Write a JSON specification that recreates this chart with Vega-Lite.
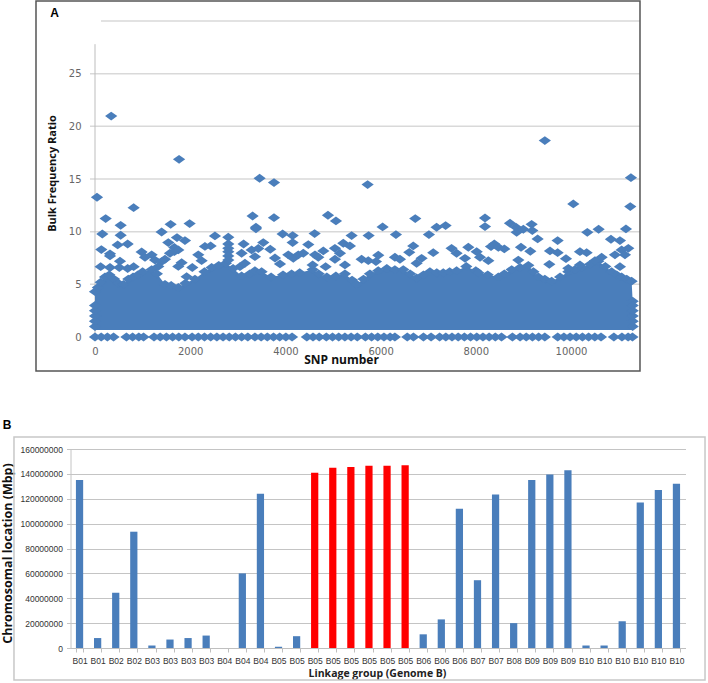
{"$schema":"https://vega.github.io/schema/vega-lite/v6.json","width":708,"height":683,"padding":0,"autosize":"none","background":"white","config":{"view":{"stroke":null}},
"datasets":{
"grid":[{"x":-105,"x2":11450,"y":5},{"x":-105,"x2":11450,"y":10},{"x":-105,"x2":11450,"y":15},{"x":-105,"x2":11450,"y":20},{"x":-105,"x2":11450,"y":25},{"x":126,"x2":11450,"y":30}],
"mass":[{"x":0,"top":4.3},{"x":60,"top":4.7},{"x":120,"top":5.2},{"x":210,"top":5.7},{"x":300,"top":5.9},{"x":400,"top":5.5},{"x":490,"top":5.1},{"x":600,"top":5},{"x":700,"top":5.5},{"x":800,"top":5.7},{"x":900,"top":5.9},{"x":1000,"top":6.2},{"x":1190,"top":6.4},{"x":1300,"top":6},{"x":1470,"top":5},{"x":1600,"top":4.9},{"x":1750,"top":4.7},{"x":1900,"top":5.1},{"x":2100,"top":5.5},{"x":2300,"top":6.2},{"x":2450,"top":6.6},{"x":2600,"top":6.8},{"x":2750,"top":7},{"x":2900,"top":6.5},{"x":3080,"top":5.8},{"x":3250,"top":6},{"x":3360,"top":6.3},{"x":3500,"top":6.2},{"x":3700,"top":5.7},{"x":3950,"top":5.9},{"x":4130,"top":6},{"x":4300,"top":6.1},{"x":4572,"top":6.4},{"x":4700,"top":6},{"x":4870,"top":5.7},{"x":5060,"top":5.8},{"x":5251,"top":6},{"x":5400,"top":5.4},{"x":5500,"top":5},{"x":5640,"top":5.5},{"x":5775,"top":6},{"x":5950,"top":6.3},{"x":6130,"top":6.5},{"x":6300,"top":6.4},{"x":6476,"top":6.4},{"x":6620,"top":6},{"x":6756,"top":5.6},{"x":6900,"top":5.9},{"x":7036,"top":6.2},{"x":7180,"top":6.1},{"x":7316,"top":6.1},{"x":7450,"top":6.2},{"x":7596,"top":6.3},{"x":7800,"top":6.7},{"x":8000,"top":6.3},{"x":8053,"top":6.1},{"x":8250,"top":5.9},{"x":8473,"top":5.7},{"x":8600,"top":6},{"x":8753,"top":6.4},{"x":8930,"top":6.6},{"x":9103,"top":6.8},{"x":9210,"top":6.2},{"x":9313,"top":5.7},{"x":9450,"top":5.5},{"x":9593,"top":5.3},{"x":9770,"top":5.7},{"x":9943,"top":6.2},{"x":10080,"top":6.4},{"x":10223,"top":6.6},{"x":10400,"top":6.9},{"x":10573,"top":7.2},{"x":10720,"top":6.7},{"x":10853,"top":6.2},{"x":10960,"top":5.9},{"x":11063,"top":5.7},{"x":11170,"top":5.5},{"x":11273,"top":5.3},{"x":11295,"top":3.4}],
"points":[{"x":42,"y":13.27},{"x":340,"y":20.97},{"x":1766,"y":16.87},{"x":812,"y":12.28},{"x":224,"y":11.24},{"x":539,"y":10.6},{"x":3311,"y":11.49},{"x":1589,"y":10.7},{"x":1988,"y":10.77},{"x":1400,"y":9.97},{"x":154,"y":9.78},{"x":539,"y":9.66},{"x":3381,"y":10.42},{"x":3381,"y":10.27},{"x":3458,"y":15.07},{"x":3760,"y":14.66},{"x":3760,"y":11.33},{"x":2520,"y":9.6},{"x":2800,"y":9.47},{"x":1722,"y":9.44},{"x":1890,"y":9.15},{"x":1540,"y":8.96},{"x":686,"y":8.83},{"x":476,"y":8.74},{"x":3122,"y":8.83},{"x":3535,"y":8.96},{"x":133,"y":8.3},{"x":315,"y":7.9},{"x":315,"y":7.7},{"x":980,"y":8.07},{"x":1666,"y":8.5},{"x":1575,"y":7.95},{"x":1666,"y":8.1},{"x":1750,"y":8.27},{"x":2310,"y":8.6},{"x":2429,"y":8.65},{"x":2800,"y":8.83},{"x":2800,"y":8.42},{"x":2800,"y":8.1},{"x":2800,"y":7.7},{"x":2800,"y":7.3},{"x":1190,"y":7.8},{"x":1470,"y":7.38},{"x":1050,"y":7.57},{"x":3080,"y":7.95},{"x":3290,"y":8.27},{"x":3430,"y":8.4},{"x":3360,"y":7.63},{"x":3682,"y":8.33},{"x":2170,"y":7.8},{"x":2240,"y":7.25},{"x":1820,"y":7.06},{"x":1750,"y":6.7},{"x":525,"y":7.2},{"x":119,"y":6.68},{"x":315,"y":6.6},{"x":511,"y":6.6},{"x":686,"y":6.5},{"x":812,"y":6.68},{"x":2044,"y":6.6},{"x":1925,"y":5.73},{"x":3045,"y":6.68},{"x":3150,"y":7},{"x":1260,"y":7.3},{"x":1400,"y":7.16},{"x":1330,"y":6.7},
{"x":3781,"y":7.5},{"x":5727,"y":14.47},{"x":4894,"y":11.56},{"x":5062,"y":11.02},{"x":6042,"y":10.45},{"x":6728,"y":11.24},{"x":7176,"y":10.42},{"x":7365,"y":10.58},{"x":3942,"y":9.78},{"x":4152,"y":9.63},{"x":4614,"y":9.82},{"x":5391,"y":9.63},{"x":5748,"y":9.63},{"x":6322,"y":9.72},{"x":7015,"y":9.72},{"x":4152,"y":8.96},{"x":4481,"y":8.77},{"x":5216,"y":8.9},{"x":5041,"y":8.42},{"x":5356,"y":8.65},{"x":6686,"y":8.65},{"x":6602,"y":8.04},{"x":7106,"y":8.01},{"x":7491,"y":8.42},{"x":7596,"y":7.95},{"x":4796,"y":8.17},{"x":4061,"y":7.8},{"x":4166,"y":7.47},{"x":4271,"y":7.8},{"x":4376,"y":7.95},{"x":4621,"y":7.8},{"x":4691,"y":7.57},{"x":5146,"y":7.95},{"x":5041,"y":7.38},{"x":3886,"y":6.94},{"x":5951,"y":7.76},{"x":5902,"y":7.16},{"x":5601,"y":7.38},{"x":5741,"y":7.25},{"x":6301,"y":7.57},{"x":6406,"y":7.38},{"x":6861,"y":7.47},{"x":6756,"y":7},{"x":4845,"y":6.68},{"x":4572,"y":6.84},{"x":5251,"y":6.84},
{"x":11259,"y":15.13},{"x":9450,"y":18.65},{"x":10048,"y":12.63},{"x":11245,"y":12.38},{"x":8193,"y":11.3},{"x":8193,"y":10.48},{"x":8718,"y":10.8},{"x":8844,"y":10.42},{"x":8858,"y":9.94},{"x":8998,"y":10.23},{"x":9173,"y":10.7},{"x":9187,"y":10.1},{"x":10342,"y":9.94},{"x":10580,"y":10.23},{"x":11154,"y":10.26},{"x":9299,"y":9.31},{"x":9719,"y":9.15},{"x":10839,"y":9.28},{"x":11028,"y":9.15},{"x":7843,"y":8.52},{"x":8389,"y":8.83},{"x":8319,"y":8.58},{"x":8473,"y":8.52},{"x":8599,"y":8.36},{"x":8949,"y":8.52},{"x":9145,"y":8.14},{"x":9558,"y":8.17},{"x":9719,"y":8.01},{"x":10188,"y":8.1},{"x":10328,"y":8.01},{"x":9894,"y":7.44},{"x":11203,"y":8.42},{"x":11063,"y":8.27},{"x":10923,"y":7.8},{"x":11133,"y":7.8},{"x":8018,"y":8.1},{"x":8088,"y":7.57},{"x":8263,"y":7.25},{"x":8893,"y":7.3},{"x":9544,"y":6.9},{"x":11028,"y":6.68},{"x":10643,"y":7.57},{"x":10503,"y":7.25},{"x":7773,"y":7.47},{"x":9943,"y":6.52},{"x":10188,"y":6.84},
{"x":0,"y":1},{"x":0,"y":1.5},{"x":0,"y":2},{"x":0,"y":2.5},{"x":0,"y":3},{"x":11295,"y":1},{"x":11295,"y":1.5},{"x":11295,"y":2},{"x":11295,"y":2.5},{"x":11295,"y":3},
{"x":0,"y":0},{"x":130,"y":0},{"x":260,"y":0},{"x":390,"y":0},{"x":660,"y":0},{"x":790,"y":0},{"x":920,"y":0},{"x":1020,"y":0},{"x":1240,"y":0},{"x":1370,"y":0},{"x":1500,"y":0},{"x":1630,"y":0},{"x":1760,"y":0},{"x":1890,"y":0},{"x":2040,"y":0},{"x":2170,"y":0},{"x":2300,"y":0},{"x":2430,"y":0},{"x":2560,"y":0},{"x":2690,"y":0},{"x":2820,"y":0},{"x":2950,"y":0},{"x":3080,"y":0},{"x":3210,"y":0},{"x":3360,"y":0},{"x":3490,"y":0},{"x":3620,"y":0},{"x":3750,"y":0},{"x":3880,"y":0},{"x":4010,"y":0},{"x":4140,"y":0},{"x":4450,"y":0},{"x":4580,"y":0},{"x":4710,"y":0},{"x":4860,"y":0},{"x":4990,"y":0},{"x":5120,"y":0},{"x":5250,"y":0},{"x":5380,"y":0},{"x":5510,"y":0},{"x":5680,"y":0},{"x":5810,"y":0},{"x":5940,"y":0},{"x":6070,"y":0},{"x":6200,"y":0},{"x":6300,"y":0},{"x":6560,"y":0},{"x":6690,"y":0},{"x":6900,"y":0},{"x":7060,"y":0},{"x":7240,"y":0},{"x":7370,"y":0},{"x":7500,"y":0},{"x":7630,"y":0},{"x":7760,"y":0},{"x":7890,"y":0},{"x":8020,"y":0},{"x":8150,"y":0},{"x":8280,"y":0},{"x":8410,"y":0},{"x":8540,"y":0},{"x":8770,"y":0},{"x":8930,"y":0},{"x":9060,"y":0},{"x":9190,"y":0},{"x":9320,"y":0},{"x":9450,"y":0},{"x":9720,"y":0},{"x":9850,"y":0},{"x":9980,"y":0},{"x":10110,"y":0},{"x":10240,"y":0},{"x":10370,"y":0},{"x":10500,"y":0},{"x":10630,"y":0},{"x":10900,"y":0},{"x":11070,"y":0},{"x":11200,"y":0},{"x":11290,"y":0}],
"bars":[{"m":"B01-1","v":135000000,"g":"n"},{"m":"B01-2","v":8000000,"g":"n"},{"m":"B02-1","v":44500000,"g":"n"},{"m":"B02-2","v":93500000,"g":"n"},{"m":"B03-1","v":2000000,"g":"n"},{"m":"B03-2","v":6800000,"g":"n"},{"m":"B03-3","v":8000000,"g":"n"},{"m":"B03-4","v":10000000,"g":"n"},{"m":"B04-1","v":0,"g":"n"},{"m":"B04-2","v":60000000,"g":"n"},{"m":"B04-3","v":124000000,"g":"n"},{"m":"B05-1","v":1000000,"g":"n"},{"m":"B05-2","v":9500000,"g":"n"},{"m":"B05-3","v":141000000,"g":"r"},{"m":"B05-4","v":145000000,"g":"r"},{"m":"B05-5","v":145500000,"g":"r"},{"m":"B05-6","v":146500000,"g":"r"},{"m":"B05-7","v":146500000,"g":"r"},{"m":"B05-8","v":147000000,"g":"r"},{"m":"B06-1","v":11000000,"g":"n"},{"m":"B06-2","v":23000000,"g":"n"},{"m":"B06-3","v":112000000,"g":"n"},{"m":"B07-1","v":54500000,"g":"n"},{"m":"B07-2","v":123500000,"g":"n"},{"m":"B08-1","v":20000000,"g":"n"},{"m":"B09-1","v":135000000,"g":"n"},{"m":"B09-2","v":139500000,"g":"n"},{"m":"B09-3","v":143000000,"g":"n"},{"m":"B10-1","v":2000000,"g":"n"},{"m":"B10-2","v":2000000,"g":"n"},{"m":"B10-3","v":21500000,"g":"n"},{"m":"B10-4","v":117000000,"g":"n"},{"m":"B10-5","v":127000000,"g":"n"},{"m":"B10-6","v":132000000,"g":"n"}]
},
"layer":[
{"layer":[
{"data":{"name":"grid"},"mark":{"type":"rule","color":"#d9d9d9","strokeWidth":1.5},"encoding":{
"x":{"field":"x","type":"quantitative","scale":{"domain":[0,11300],"range":[95,632.9],"nice":false,"zero":false},"axis":{"orient":"bottom","offset":-346,"domain":false,"ticks":false,"grid":false,"values":[0,2000,4000,6000,8000,10000],"format":"d","labelFlush":false,"labelFont":"DejaVu Sans","labelFontSize":10,"labelColor":"#666666","labelPadding":9,"title":"SNP number","titleFont":"Open Sans","titleFontSize":12,"titleFontWeight":"bold","titleColor":"#111111","titleX":341,"titleY":17}},
"x2":{"field":"x2"},
"y":{"field":"y","type":"quantitative","scale":{"domain":[0,30],"range":[337,21],"nice":false},"axis":{"orient":"left","offset":-95,"domain":false,"ticks":false,"grid":false,"values":[0,5,10,15,20,25],"labelFlush":false,"labelFont":"DejaVu Sans","labelFontSize":10,"labelColor":"#666666","labelPadding":14,"title":"Bulk Frequency Ratio","titleFont":"Open Sans","titleFontSize":11,"titleFontWeight":"bold","titleColor":"#111111","titleX":-38,"titleY":173,"titleAngle":-90}}}},
{"data":{"values":[{"x":0,"y":0,"y2":27.8}]},"mark":{"type":"rule","color":"#bdbdbd","strokeWidth":1},"encoding":{"x":{"field":"x","type":"quantitative"},"y":{"field":"y","type":"quantitative"},"y2":{"field":"y2"}}},
{"data":{"values":[{"x":-1239.5,"x2":11449,"y":-3.23,"y2":31.9}]},"mark":{"type":"rect","fill":null,"stroke":"#555555","strokeWidth":1.5},"encoding":{"x":{"field":"x","type":"quantitative"},"x2":{"field":"x2"},"y":{"field":"y","type":"quantitative"},"y2":{"field":"y2"}}},
{"data":{"values":[{"x":-1702,"x2":12815,"y":-32.56,"y2":-9.49}]},"mark":{"type":"rect","fill":null,"stroke":"#c8c8c8","strokeWidth":1.5},"encoding":{"x":{"field":"x","type":"quantitative"},"x2":{"field":"x2"},"y":{"field":"y","type":"quantitative"},"y2":{"field":"y2"}}},
{"data":{"name":"mass"},"mark":{"type":"area","color":"#4a7ebb"},"encoding":{"x":{"field":"x","type":"quantitative"},"y":{"field":"top","type":"quantitative"},"y2":{"datum":0.67}}},
{"data":{"name":"mass"},"mark":{"type":"point","filled":true,"opacity":1,"color":"#4a7ebb","shape":"M-1,0L0,-0.72L1,0L0,0.72Z","size":150},"encoding":{"x":{"field":"x","type":"quantitative"},"y":{"field":"top","type":"quantitative"}}},
{"data":{"name":"points"},"mark":{"type":"point","filled":true,"opacity":1,"color":"#4a7ebb","shape":"M-1,0L0,-0.72L1,0L0,0.72Z","size":150},"encoding":{"x":{"field":"x","type":"quantitative"},"y":{"field":"y","type":"quantitative"}}},
{"data":{"values":[{"x":-851,"y":30.77,"t":"A"},{"x":-1849,"y":-8.36,"t":"B"}]},"mark":{"type":"text","font":"Liberation Sans","fontWeight":"bold","fontSize":12,"color":"#000000"},"encoding":{"x":{"field":"x","type":"quantitative"},"y":{"field":"y","type":"quantitative"},"text":{"field":"t"}}}
]},
{"data":{"name":"bars"},"mark":{"type":"bar"},"encoding":{
"x":{"field":"m","type":"nominal","sort":null,"scale":{"range":[70.5,685.5],"paddingInner":0.6,"paddingOuter":0.3},"axis":{"orient":"bottom","offset":-35,"tickBand":"extent","tickColor":"#bfbfbf","tickSize":4,"domainColor":"#bfbfbf","grid":false,"labelAngle":0,"labelExpr":"slice(datum.label,0,3)","labelFont":"Liberation Sans","labelFontSize":8.5,"labelColor":"#333333","labelPadding":4,"labelOverlap":false,"title":"Linkage group (Genome B)","titleFont":"Open Sans","titleFontSize":10.5,"titleFontWeight":"bold","titleColor":"#222222","titleX":377,"titleY":20}},
"y":{"field":"v","type":"quantitative","scale":{"domain":[0,160000000],"range":[648,449],"nice":false},"axis":{"orient":"left","offset":-70.5,"values":[0,20000000,40000000,60000000,80000000,100000000,120000000,140000000,160000000],"format":"d","grid":true,"gridColor":"#c4c4c4","gridWidth":1.2,"domainColor":"#c4c4c4","tickColor":"#c4c4c4","tickSize":4,"labelFlush":false,"labelFont":"Liberation Sans","labelFontSize":8.5,"labelColor":"#333333","labelPadding":4,"title":"Chromosomal location (Mbp)","titleFont":"Open Sans","titleFontSize":12.5,"titleFontWeight":"bold","titleColor":"#111111","titleX":-56,"titleY":553,"titleAngle":-90}},
"color":{"field":"g","type":"nominal","scale":{"domain":["n","r"],"range":["#4a7ebb","#ff0000"]},"legend":null}}}
],
"resolve":{"scale":{"x":"independent","y":"independent","color":"independent"},"axis":{"x":"independent","y":"independent"}}}
